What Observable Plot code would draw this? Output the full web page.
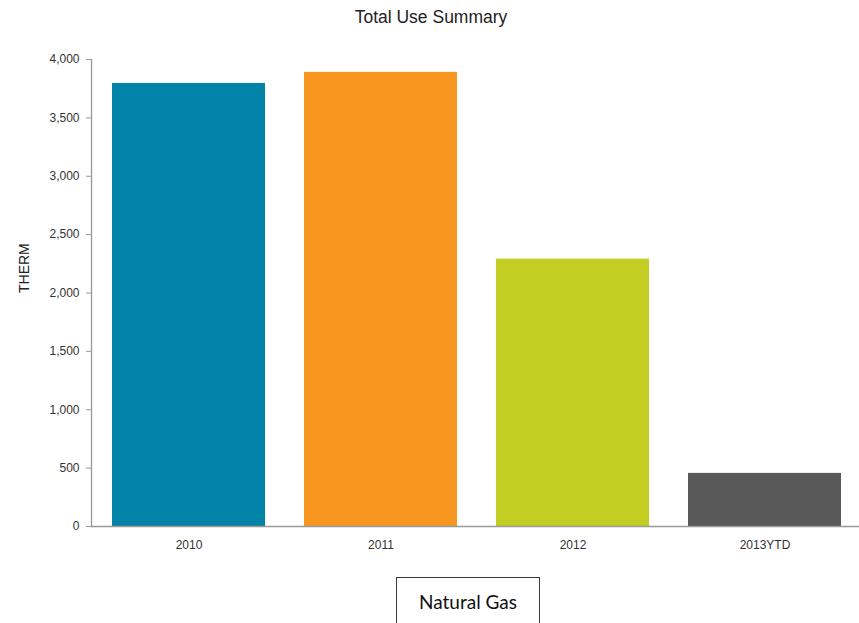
<!DOCTYPE html>
<html>
<head>
<meta charset="utf-8">
<script src="https://cdn.jsdelivr.net/npm/d3@7"></script>
<script src="https://cdn.jsdelivr.net/npm/@observablehq/plot@0.6"></script>
<style>
  html, body { margin: 0; padding: 0; background: #fff; overflow: hidden; }
  #wrap { position: relative; width: 859px; height: 623px; }
  #title { position: absolute; left: 0; width: 862px; top: 7px; text-align: center;
           font-family: "Liberation Sans", Arial, sans-serif; font-size: 17.5px; color: #222; }
  #chart { position: absolute; left: 0; top: 0; }
  #legend { position: absolute; left: 396px; top: 577px; width: 144px; height: 60px;
            border: 1.5px solid #3a3a3a; box-sizing: border-box;
            font-family: Lato, "Open Sans", sans-serif; font-size: 19px; color: #111;
            text-align: center; padding-top: 12px; }
</style>
</head>
<body>
<div id="wrap">
  <div id="title">Total Use Summary</div>
  <div id="chart"></div>
  <div id="legend">Natural Gas</div>
</div>
<script>
const years = ["2010", "2011", "2012", "2013YTD"];
const therms = [3795, 3890, 2290, 455];
const colors = ["#0284a9", "#f7971f", "#c3ce22", "#595959"];
const yTicks = [0, 500, 1000, 1500, 2000, 2500, 3000, 3500, 4000];
const yLabel = "THERM";

const data = years.map((y, i) => ({year: y, value: therms[i]}));

const chart = Plot.plot({
  width: 859,
  height: 560,
  marginLeft: 91,
  marginRight: 0,
  marginTop: 59,
  marginBottom: 34,
  style: {fontFamily: "'Liberation Sans', Arial, sans-serif", fontSize: "12px", color: "#333", background: "transparent", overflow: "visible"},
  x: {domain: years, range: [91, 862], paddingInner: 0.205, paddingOuter: 0.1025},
  y: {domain: [0, 4000]},
  color: {domain: years, range: colors},
  marks: [
    Plot.barY(data, {x: "year", y: "value", fill: "year"}),
    Plot.frame({anchor: "left", stroke: "#999", strokeWidth: 1.3}),
    Plot.ruleY([0], {stroke: "#999", strokeWidth: 1.3}),
    Plot.axisY(yTicks, {tickFormat: d3.format(","), tickSize: 5, tickPadding: 7, stroke: "#999", label: null, fill: "#333"}),
    Plot.axisX({tickSize: 0, tickPadding: 14, label: null, fill: "#333"}),
    Plot.text([yLabel], {frameAnchor: "left", dx: -67, rotate: -90, fontSize: 14, fill: "#222"})
  ]
});
document.getElementById("chart").appendChild(chart);
</script>
</body>
</html>
